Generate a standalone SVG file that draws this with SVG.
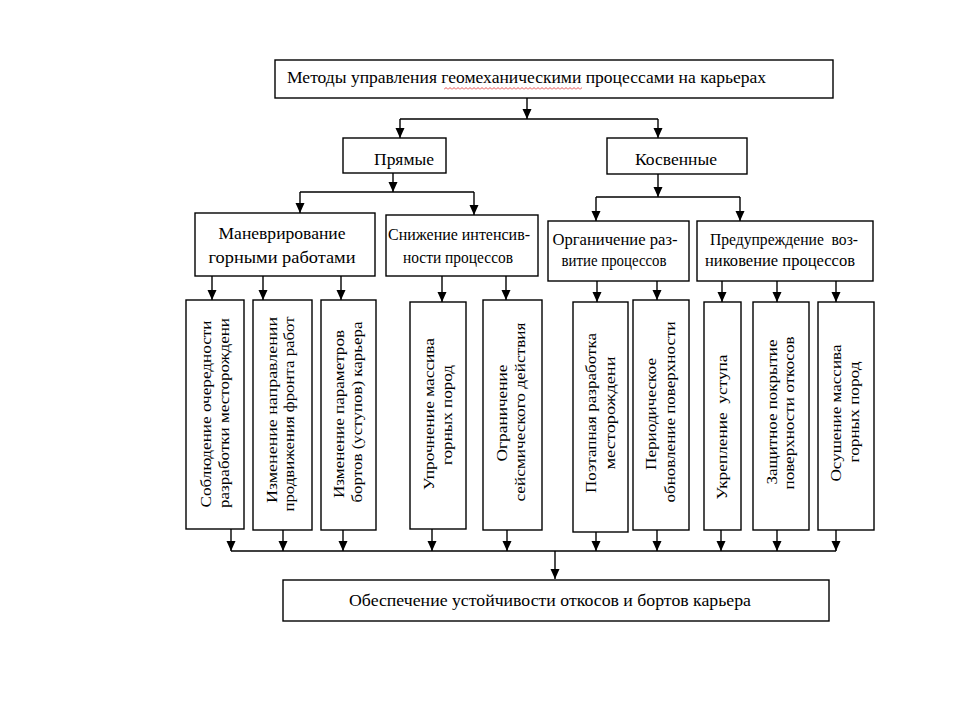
<svg xmlns="http://www.w3.org/2000/svg" width="960" height="720" viewBox="0 0 960 720">
<style>
.box{fill:#fff;stroke:#000;stroke-width:1.4}
.t{font-family:"Liberation Serif","Times New Roman",serif;font-size:17px;fill:#000}
.v{font-family:"Liberation Serif","Times New Roman",serif;font-size:15.5px;fill:#000}
.c{stroke:#000;stroke-width:1.4;fill:none}
.a{stroke:#000;stroke-width:1.4;fill:none;marker-end:url(#ah)}
</style>
<defs>
<marker id="ah" viewBox="0 0 10 10" markerUnits="userSpaceOnUse" markerWidth="10" markerHeight="10" refX="10" refY="5" orient="auto">
<path d="M0,0.5 L10,5 L0,9.5 z" fill="#000"/>
</marker>
<pattern id="wave" width="4" height="3" patternUnits="userSpaceOnUse">
<path d="M0,2.5 L2,0.5 L4,2.5" stroke="#e02020" stroke-width="0.8" fill="none"/>
</pattern>
</defs>
<rect width="960" height="720" fill="#fff"/>

<g id="connectors">
<path class="a" d="M527,98 V119"/>
<path class="c" d="M400,119 H658"/>
<path class="a" d="M400,119 V138"/>
<path class="a" d="M658,119 V138"/>
<path class="a" d="M393,173 V192"/>
<path class="c" d="M300,192 H474"/>
<path class="a" d="M300,192 V213"/>
<path class="a" d="M474,192 V215"/>
<path class="a" d="M658,174 V197"/>
<path class="c" d="M596,197 H740"/>
<path class="a" d="M596,197 V221"/>
<path class="a" d="M740,197 V221"/>
<path class="a" d="M212,276 V300"/>
<path class="a" d="M263,276 V300"/>
<path class="a" d="M341,276 V300"/>
<path class="a" d="M442,276 V302"/>
<path class="a" d="M506,276 V300"/>
<path class="a" d="M597,281 V302"/>
<path class="a" d="M657,281 V300"/>
<path class="a" d="M722,281 V302"/>
<path class="a" d="M777,281 V302"/>
<path class="a" d="M836,281 V302"/>
<path class="a" d="M231,529 V551"/>
<path class="a" d="M283,530 V551"/>
<path class="a" d="M343,530 V551"/>
<path class="a" d="M432,529 V551"/>
<path class="a" d="M507,530 V551"/>
<path class="a" d="M596,532 V551"/>
<path class="a" d="M657,530 V551"/>
<path class="a" d="M721,530 V551"/>
<path class="a" d="M777,530 V551"/>
<path class="a" d="M836,530 V551"/>
<path class="c" d="M231,551 H836"/>
<path class="a" d="M555,551 V579"/>
</g>

<g id="title">
<rect class="box" x="275" y="60" width="558" height="38"/>
<text class="t" x="287" y="83" textLength="479" lengthAdjust="spacingAndGlyphs">Методы управления геомеханическими процессами на карьерах</text>
<rect x="444" y="87" width="138" height="3" fill="url(#wave)"/>
</g>

<g id="pryamye">
<rect class="box" x="343" y="138" width="103" height="35"/>
<text class="t" x="404" y="165" text-anchor="middle" textLength="60" lengthAdjust="spacingAndGlyphs">Прямые</text>
</g>

<g id="kosvennye">
<rect class="box" x="607" y="138" width="140" height="36"/>
<text class="t" x="676" y="165" text-anchor="middle" textLength="82" lengthAdjust="spacingAndGlyphs">Косвенные</text>
</g>

<g id="manevr">
<rect class="box" x="195" y="213" width="180" height="63"/>
<text class="t" x="282" y="239" text-anchor="middle" textLength="127" lengthAdjust="spacingAndGlyphs">Маневрирование</text>
<text class="t" x="282" y="263" text-anchor="middle" textLength="147" lengthAdjust="spacingAndGlyphs">горными работами</text>
</g>

<g id="snizhenie">
<rect class="box" x="386" y="215" width="152" height="61"/>
<text class="t" x="459" y="240" text-anchor="middle" textLength="142" lengthAdjust="spacingAndGlyphs">Снижение интенсив-</text>
<text class="t" x="458" y="263" text-anchor="middle" textLength="110" lengthAdjust="spacingAndGlyphs">ности процессов</text>
</g>

<g id="ogranichenie">
<rect class="box" x="548" y="221" width="141" height="60"/>
<text class="t" x="615" y="245" text-anchor="middle" textLength="125" lengthAdjust="spacingAndGlyphs">Органичение раз-</text>
<text class="t" x="614" y="266" text-anchor="middle" textLength="105" lengthAdjust="spacingAndGlyphs">витие процессов</text>
</g>

<g id="preduprezhdenie">
<rect class="box" x="697" y="221" width="176" height="60"/>
<text class="t" x="784" y="245" text-anchor="middle" textLength="148" lengthAdjust="spacingAndGlyphs" xml:space="preserve">Предупреждение  воз-</text>
<text class="t" x="780" y="266" text-anchor="middle" textLength="150" lengthAdjust="spacingAndGlyphs">никовение процессов</text>
</g>

<g id="b1">
<rect class="box" x="186" y="300" width="58" height="229"/>
<text class="v" transform="translate(211,414) rotate(-90)" text-anchor="middle" textLength="187" lengthAdjust="spacingAndGlyphs">Соблюдение очередности</text>
<text class="v" transform="translate(229,413) rotate(-90)" text-anchor="middle" textLength="190" lengthAdjust="spacingAndGlyphs">разработки месторождени</text>
</g>

<g id="b2">
<rect class="box" x="253" y="300" width="59" height="230"/>
<text class="v" transform="translate(277,410) rotate(-90)" text-anchor="middle" textLength="186" lengthAdjust="spacingAndGlyphs">Изменение направлении</text>
<text class="v" transform="translate(294,414) rotate(-90)" text-anchor="middle" textLength="195" lengthAdjust="spacingAndGlyphs">продвижения фронта работ</text>
</g>

<g id="b3">
<rect class="box" x="321" y="300" width="55" height="230"/>
<text class="v" transform="translate(344,414) rotate(-90)" text-anchor="middle" textLength="168" lengthAdjust="spacingAndGlyphs">Изменение параметров</text>
<text class="v" transform="translate(362,412) rotate(-90)" text-anchor="middle" textLength="181" lengthAdjust="spacingAndGlyphs">бортов (уступов) карьера</text>
</g>

<g id="b4">
<rect class="box" x="410" y="302" width="56" height="227"/>
<text class="v" transform="translate(434,414) rotate(-90)" text-anchor="middle" textLength="152" lengthAdjust="spacingAndGlyphs">Упрочнение массива</text>
<text class="v" transform="translate(452,415) rotate(-90)" text-anchor="middle" textLength="100" lengthAdjust="spacingAndGlyphs">горных пород</text>
</g>

<g id="b5">
<rect class="box" x="483" y="300" width="59" height="230"/>
<text class="v" transform="translate(507,413) rotate(-90)" text-anchor="middle" textLength="97" lengthAdjust="spacingAndGlyphs">Ограничение</text>
<text class="v" transform="translate(525,412) rotate(-90)" text-anchor="middle" textLength="179" lengthAdjust="spacingAndGlyphs">сейсмического действия</text>
</g>

<g id="b6">
<rect class="box" x="573" y="302" width="55" height="230"/>
<text class="v" transform="translate(596,413) rotate(-90)" text-anchor="middle" textLength="160" lengthAdjust="spacingAndGlyphs">Поэтапная разработка</text>
<text class="v" transform="translate(615,413) rotate(-90)" text-anchor="middle" textLength="113" lengthAdjust="spacingAndGlyphs">месторождени</text>
</g>

<g id="b7">
<rect class="box" x="633" y="300" width="56" height="230"/>
<text class="v" transform="translate(656,414) rotate(-90)" text-anchor="middle" textLength="112" lengthAdjust="spacingAndGlyphs">Периодическое</text>
<text class="v" transform="translate(675,412) rotate(-90)" text-anchor="middle" textLength="181" lengthAdjust="spacingAndGlyphs">обновление поверхности</text>
</g>

<g id="b8">
<rect class="box" x="704" y="302" width="37" height="228"/>
<text class="v" transform="translate(727,427) rotate(-90)" text-anchor="middle" textLength="145" lengthAdjust="spacingAndGlyphs" xml:space="preserve">Укрепление  уступа</text>
</g>

<g id="b9">
<rect class="box" x="753" y="302" width="56" height="228"/>
<text class="v" transform="translate(777,412) rotate(-90)" text-anchor="middle" textLength="145" lengthAdjust="spacingAndGlyphs">Защитное покрытие</text>
<text class="v" transform="translate(794,413) rotate(-90)" text-anchor="middle" textLength="153" lengthAdjust="spacingAndGlyphs">поверхности откосов</text>
</g>

<g id="b10">
<rect class="box" x="818" y="302" width="56" height="228"/>
<text class="v" transform="translate(841,413) rotate(-90)" text-anchor="middle" textLength="137" lengthAdjust="spacingAndGlyphs">Осушение массива</text>
<text class="v" transform="translate(859,412) rotate(-90)" text-anchor="middle" textLength="101" lengthAdjust="spacingAndGlyphs">горных пород</text>
</g>

<g id="result">
<rect class="box" x="283" y="580" width="546" height="41"/>
<text class="t" x="349" y="606" textLength="402" lengthAdjust="spacingAndGlyphs">Обеспечение устойчивости откосов и бортов карьера</text>
</g>
</svg>
